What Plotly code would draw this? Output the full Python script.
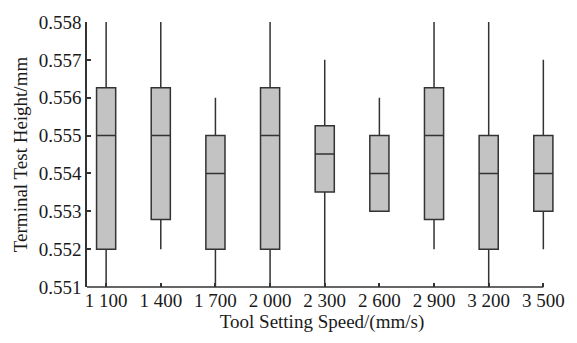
import plotly.graph_objects as go

categories = ["1 100", "1 400", "1 700", "2 000", "2 300", "2 600", "2 900", "3 200", "3 500"]
lower = [0.551, 0.552, 0.551, 0.551, 0.551, 0.553, 0.552, 0.551, 0.552]
q1 = [0.552, 0.55278, 0.552, 0.552, 0.55351, 0.553, 0.55278, 0.552, 0.553]
median = [0.555, 0.555, 0.554, 0.555, 0.55451, 0.554, 0.555, 0.554, 0.554]
q3 = [0.55626, 0.55626, 0.555, 0.55626, 0.55526, 0.555, 0.55626, 0.555, 0.555]
upper = [0.558, 0.558, 0.556, 0.558, 0.557, 0.556, 0.558, 0.558, 0.557]
y_ticks = [0.551, 0.552, 0.553, 0.554, 0.555, 0.556, 0.557, 0.558]

line_color = "#333333"
fig = go.Figure()
fig.add_trace(go.Box(
    x=categories, q1=q1, median=median, q3=q3,
    lowerfence=lower, upperfence=upper,
    fillcolor="#c3c3c3",
    line=dict(color=line_color, width=1.5),
    whiskerwidth=0, width=0.35,
    boxpoints=False, showlegend=False, hoverinfo="skip",
))

# x axis baseline ending at the last category tick
fig.add_shape(type="line", xref="x", yref="paper",
              x0=-0.35, x1=len(categories) - 1, y0=0, y1=0,
              line=dict(color=line_color, width=1.5))

font = dict(family="Liberation Serif, Times New Roman, serif", size=19, color="#1a1a1a")
fig.update_layout(
    width=577, height=343,
    margin=dict(l=87, r=20, t=16, b=56),
    paper_bgcolor="white", plot_bgcolor="white",
    font=font,
    xaxis=dict(
        type="category", range=[-0.35, 8.25],
        showline=False,
        ticks="inside", ticklen=4, tickcolor=line_color, tickwidth=1.5,
        showgrid=False, zeroline=False,
        title=dict(text="Tool Setting Speed/(mm/s)", standoff=4, font=font),
        tickfont=font,
    ),
    yaxis=dict(
        range=[0.551, 0.558],
        tickvals=y_ticks, ticktext=[f"{v:.3f}" for v in y_ticks],
        showline=True, linecolor=line_color, linewidth=1.5,
        ticks="inside", ticklen=4, tickcolor=line_color, tickwidth=1.5,
        showgrid=False, zeroline=False,
        title=dict(text="Terminal Test Height/mm", standoff=6, font=font),
        tickfont=font,
    ),
)
fig.write_html("out.html")
